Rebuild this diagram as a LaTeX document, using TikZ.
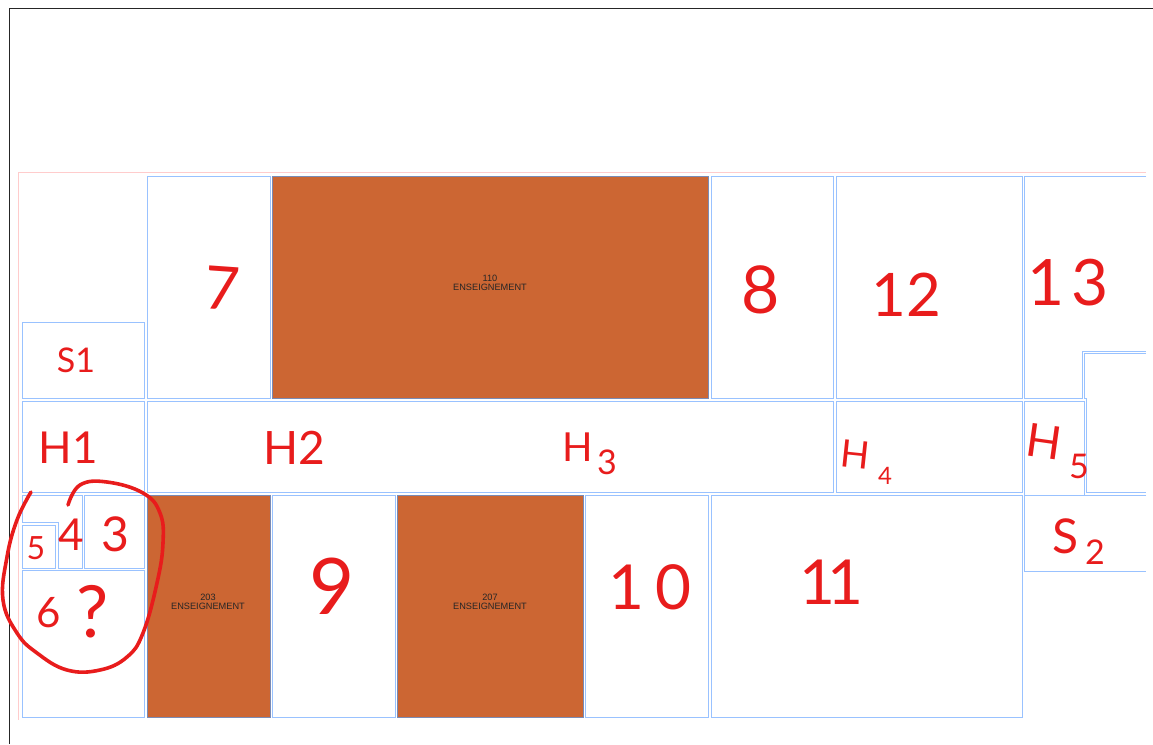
\documentclass[tikz,border=0pt]{standalone}
\usepackage{fontspec}
\setmainfont{Liberation Sans}
\newfontfamily\handfont{Lato}
\definecolor{roomblue}{HTML}{99C2FF}
\definecolor{planpink}{HTML}{FFCCCC}
\definecolor{teachorange}{HTML}{CC6633}
\definecolor{teachedge}{HTML}{7A8BB5}
\definecolor{handred}{HTML}{E81C1C}
\newcommand{\handsize}[1]{\fontsize{#1}{#1}\selectfont}

\begin{document}
\begin{tikzpicture}[
      x=1pt, y=-1pt,
      room/.style={draw=roomblue, line width=1pt},
      teaching/.style={draw=teachedge, line width=1pt, fill=teachorange},
      printed/.style={align=center, inner sep=0pt, font=\fontsize{9.2}{9.3}\selectfont, text=black!85},
      hand/.style={inner sep=0pt, text=handred, font=\handfont\handsize{#1}},
      hand/.default=60
    ]
      \useasboundingbox (0,0) rectangle (1153,744);
      % frame and plan outline
      \draw[black!85, line width=1pt] (1153,8.5) -- (9.5,8.5) -- (9.5,744);
      \draw[planpink, line width=1pt] (1146,172) -- (18.5,172) -- (18.5,720);
      % plain rooms
      \foreach \xa/\ya/\xb/\yb in {
          22.5/322.5/144.5/398.5, 22.5/401.5/144.5/492.5,
          147.5/176.5/270.5/398.5, 711/176.5/833.5/398.5, 836.5/176.5/1022/398.5,
          147.5/401.5/833.5/492.5, 836.5/401.5/1022/492.5, 1024.5/401.5/1084.5/495.5,
          84.5/495.5/144.5/568.5, 22.5/525.5/55.5/568.5, 22.5/570.5/144.5/717.5,
          272.5/495.5/395.5/717.5, 585.5/495.5/708.5/717.5, 711/495.5/1022/717.5}
        \draw[room] (\xa,\ya) rectangle (\xb,\yb);
      \draw[room] (1146,176.5) -- (1024.5,176.5) -- (1024.5,398.5) -- (1082.5,398.5) -- (1082.5,351.5) -- (1146,351.5);
      \draw[room] (1146,353.5) -- (1084.7,353.5) -- (1084.7,398.7) -- (1086.3,398.7) -- (1086.3,492.5) -- (1146,492.5);
      \draw[room] (1146,495.5) -- (1024.5,495.5) -- (1024.5,571.5) -- (1146,571.5);
      \draw[room] (22.5,495.5) -- (82.5,495.5) -- (82.5,568.5) -- (58,568.5) -- (58,522.5) -- (22.5,522.5) -- cycle;
      % teaching rooms
      \foreach \xa/\ya/\xb/\yb in {
          272.5/176.5/708.5/398.5, 147.5/495.5/270.5/717.5, 397.5/495.5/583.5/717.5}
        \draw[teaching] (\xa,\ya) rectangle (\xb,\yb);
      \node[printed] (t110) at (490,282.5) {110\\ENSEIGNEMENT};
      \node[printed] (t203) at (208,601.5) {203\\ENSEIGNEMENT};
      \node[printed] (t207) at (490,601.5) {207\\ENSEIGNEMENT};
      % red notes
      \node[hand, rotate=-4] (n7) at (222,288) {7};
      \node[hand=66] (n8) at (761,290) {8};
      \node[hand] (n12) at (906,295) {12};
      \node[hand=64] (n13) at (1068,283) {1\kern-3pt\,3};
      \node[hand=34] (ns1) at (76,360) {S1};
      \node[hand=44] (nh1) at (68,448) {H1};
      \node[hand=46] (nh2) at (294,448) {H2};
      \node[hand=40] (nh3) at (578,447) {H};
      \node[hand=34] (nh3b) at (607,462) {3};
      \node[hand=38, rotate=-6] (nh4) at (855,454) {H};
      \node[hand=24] (nh4b) at (885,476) {4};
      \node[hand=46, rotate=-8] (nh5) at (1044,442) {H};
      \node[hand=34] (nh5b) at (1079,466) {5};
      \node[hand=48] (ns2) at (1066,536) {S};
      \node[hand=34] (ns2b) at (1095,552) {2};
      \node[hand=32] (n5) at (36,548) {5};
      \node[hand=44] (n4) at (71,535) {4};
      \node[hand=48] (n3) at (115,534) {3};
      \node[hand=42] (n6) at (49,613) {6};
      \node[hand=72] (nq) at (93,612) {?};
      \node[hand=78] (n9) at (332,586) {9};
      \node[hand=62] (n10) at (650,587) {1\,0};
      \node[hand=62] (n11) at (831,582) {1\kern-8pt 1};
      \draw[handred, line width=3.6pt, line cap=round, line join=round] plot[smooth, tension=0.7] coordinates {
          (31,492) (17,520) (7,557) (3,600) (17,633) (37,653) (67,670) (100,670) (127,657)
          (143,633) (157,583) (163,543) (160,513) (143,493) (107,482) (80,485) (68,505)};
    \end{tikzpicture}
\end{document}
